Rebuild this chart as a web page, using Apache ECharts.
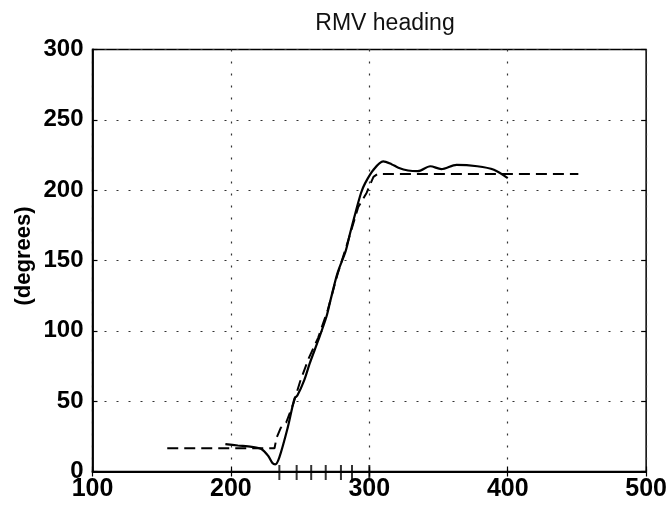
<!DOCTYPE html>
<html>
<head>
<meta charset="utf-8">
<script src="https://cdn.jsdelivr.net/npm/echarts@6/dist/echarts.min.js"></script>
<style>html,body{margin:0;padding:0;background:#fff;}#c{width:670px;height:514px;}</style>
</head>
<body>
<div id="c"></div>
<script>
var titleText = 'RMV heading';
var yName = '(degrees)';
var solidX = [196, 205, 215, 222, 227, 230, 232, 235, 241, 246, 248, 253, 257, 263, 269, 272, 277, 283, 286, 290, 294, 297, 303, 310, 316, 321, 328, 335, 344, 352, 363, 378, 390, 400];
var solidY = [19.5, 18.5, 17.5, 16, 11, 6, 5, 10, 31, 52, 54, 65, 77, 93, 110, 122, 141, 157, 169, 184, 198, 205, 214.5, 220.5, 218.5, 216, 214, 213.5, 217, 215, 218, 217, 214.5, 208.5];
var dashX = [154, 231.5, 233, 236, 240, 245, 250, 256, 263, 270, 277, 285, 292, 298, 303, 306, 451];
var dashY = [16.5, 16.5, 24, 31, 35, 48, 64, 80, 95, 115, 140, 165, 188, 198, 209.5, 211.5, 211.5];
var markX = [235, 247.5, 258, 268.5, 279.5, 287.5, 300];
var xTicks = [100, 500, 100];
var yTicks = [0, 300, 50];

function pairs(a, b) { return a.map(function (v, i) { return [v, b[i]]; }); }

var chart = echarts.init(document.getElementById('c'));
var grid = {color: '#333', type: [2, 10], width: 1.2};
var labelFont = {color: '#000', fontFamily: 'Liberation Sans', fontSize: 25, fontWeight: 'bold'};
var tick = {show: true, inside: true, length: 5, lineStyle: {color: '#000', width: 1.2}};
chart.setOption({
  animation: false,
  backgroundColor: '#fff',
  title: {text: titleText, left: 380, top: 7, textAlign: 'center',
    textStyle: {fontFamily: 'Liberation Sans', fontSize: 23, fontWeight: 'normal', color: '#111'}},
  grid: {left: 92.5, right: 21.5, top: 49.5, bottom: 42.5, show: true, borderColor: '#000', borderWidth: 1.5},
  xAxis: [
    {type: 'value', min: xTicks[0], max: xTicks[1], interval: xTicks[2],
      axisLine: {show: true, onZero: false, lineStyle: {color: '#000', width: 1.8}},
      axisTick: tick,
      splitLine: {show: true, lineStyle: grid},
      axisLabel: Object.assign({margin: 5}, labelFont)},
    {type: 'value', position: 'top', min: xTicks[0], max: xTicks[1], interval: xTicks[2],
      axisLine: {show: false}, axisTick: tick, splitLine: {show: false}, axisLabel: {show: false}}
  ],
  yAxis: [
    {type: 'value', min: yTicks[0], max: yTicks[1], interval: yTicks[2],
      axisLine: {show: true, lineStyle: {color: '#000', width: 1.8}},
      axisTick: tick,
      splitLine: {show: true, lineStyle: grid},
      axisLabel: Object.assign({margin: 9}, labelFont, {fontSize: 24})},
    {type: 'value', position: 'right', min: yTicks[0], max: yTicks[1], interval: yTicks[2],
      axisLine: {show: false}, axisTick: tick, splitLine: {show: false}, axisLabel: {show: false}}
  ],
  graphic: [{type: 'text', x: 24, y: 256, rotation: Math.PI / 2,
    style: {text: yName, fill: '#000', font: 'bold 22px "Liberation Sans"', textAlign: 'center', textVerticalAlign: 'middle'}}],
  series: [
    {type: 'line', data: pairs(dashX, dashY), showSymbol: false, symbol: 'none',
      lineStyle: {color: '#000', width: 2, type: [11, 6]}},
    {type: 'line', data: pairs(solidX, solidY), showSymbol: false, symbol: 'none', smooth: 0.3,
      lineStyle: {color: '#000', width: 2.2}},
    {type: 'scatter', data: markX.map(function (v) { return [v, 0]; }), symbol: 'rect',
      symbolSize: [2, 15], symbolOffset: [0, 1], clip: false, itemStyle: {color: '#000'}}
  ]
});
</script>
</body>
</html>
